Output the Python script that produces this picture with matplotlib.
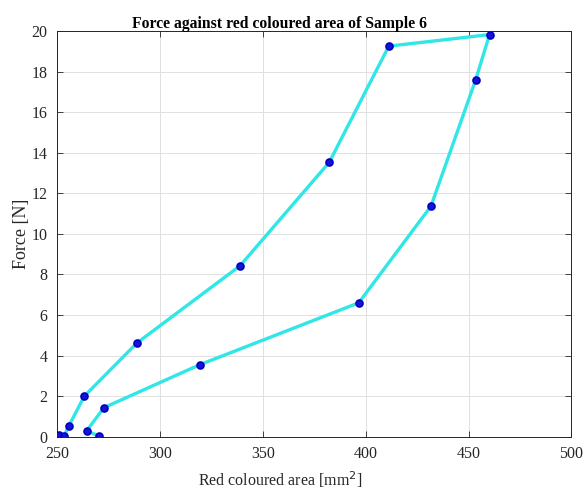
import matplotlib
matplotlib.use("Agg")
import matplotlib.pyplot as plt

# Red coloured area [mm^2] and applied force [N], in measurement order
area = [250.9, 253.2, 255.6, 263.1, 288.7, 338.8, 382.2, 411.2, 460.2,
        453.4, 431.7, 396.6, 319.3, 272.6, 264.3, 270.2]
force = [0.08, 0.03, 0.54, 2.00, 4.62, 8.42, 13.52, 19.25, 19.82,
         17.57, 11.36, 6.60, 3.55, 1.43, 0.30, 0.02]

x_ticks = [250, 300, 350, 400, 450, 500]
y_ticks = [0, 2, 4, 6, 8, 10, 12, 14, 16, 18, 20]

plt.rcParams['font.family'] = ['Liberation Serif', 'DejaVu Serif']

fig = plt.figure(figsize=(5.86, 4.91), dpi=100)
ax = fig.add_axes([0.098, 0.1106, 0.877, 0.8264])

ax.plot(area, force, color='#30e6e6', linewidth=2.4, zorder=2)
ax.plot(area, force, linestyle='none', marker='o', markersize=5,
        markerfacecolor='#1414d8', markeredgecolor='#0000c0',
        markeredgewidth=1.2, zorder=3)

ax.set_xlim(250, 500)
ax.set_ylim(0, 20)
ax.set_xticks(x_ticks)
ax.set_yticks(y_ticks)
ax.tick_params(direction='in', top=True, right=True, length=4,
               width=0.6, color='#262626', labelsize=11.5,
               labelcolor='#262626')
ax.tick_params(axis='x', pad=7)
ax.tick_params(axis='y', pad=7)
ax.grid(True, color='#e0e0e0', linewidth=0.7)
ax.set_axisbelow(True)
for s in ax.spines.values():
    s.set_color('#262626')
    s.set_linewidth(0.7)

ax.set_title('Force against red coloured area of Sample 6',
             fontsize=11.3, fontweight='bold', x=0.433, y=1.0, pad=2)
ax.set_xlabel('Red coloured area [mm$^2$]', fontsize=11.5, color='#262626')
ax.xaxis.set_label_coords(0.433, -0.08)
ax.set_ylabel('Force [N]', fontsize=13, color='#262626')
ax.yaxis.set_label_coords(-0.054, 0.5)

fig.savefig('out.png', dpi=100)
